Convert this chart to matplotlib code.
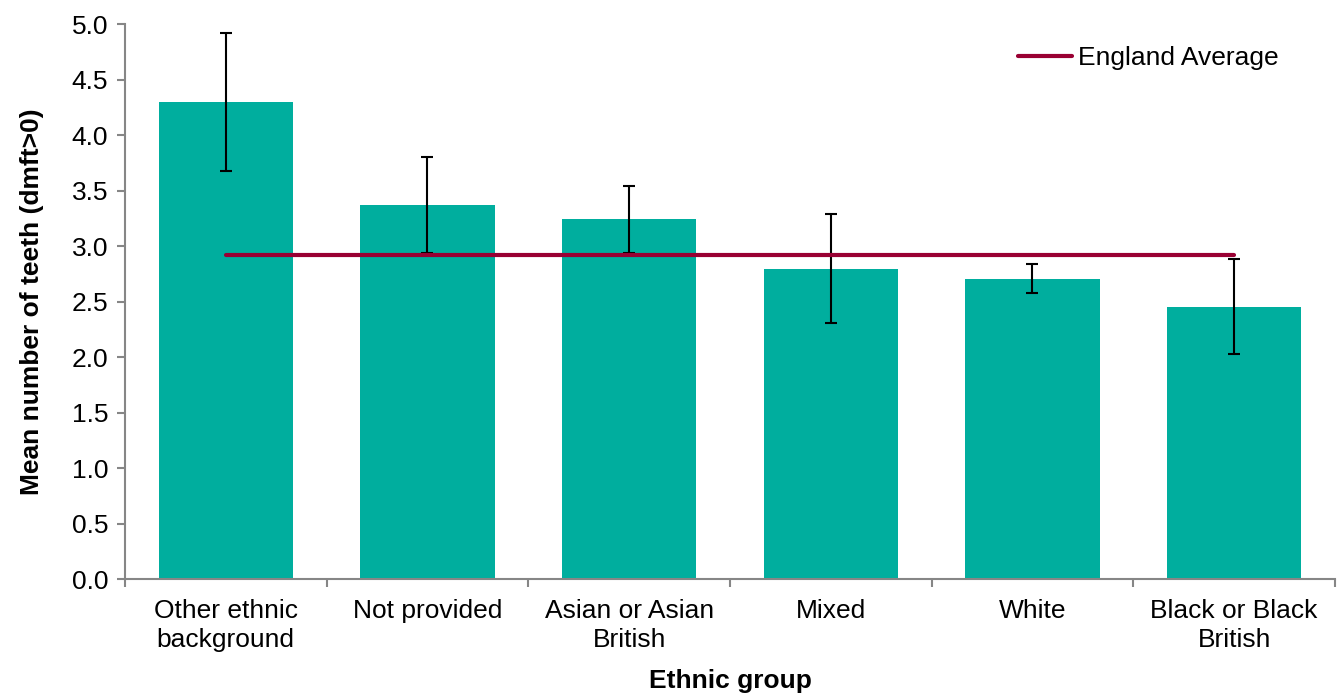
import numpy as np
import matplotlib
matplotlib.use("Agg")
import matplotlib.pyplot as plt

plt.rcParams['font.family'] = ['Liberation Sans', 'DejaVu Sans']

# data
groups = ["Other ethnic\nbackground", "Not provided", "Asian or Asian\nBritish",
          "Mixed", "White", "Black or Black\nBritish"]
means = [4.30, 3.37, 3.24, 2.79, 2.70, 2.45]
ci_low = [3.68, 2.94, 2.94, 2.31, 2.58, 2.03]
ci_high = [4.92, 3.80, 3.54, 3.29, 2.84, 2.88]
england_avg = [2.92] * 6

bar_color = '#00AE9E'
line_color = '#990033'
axis_color = '#868686'
fs = 19

fig = plt.figure(figsize=(13.41, 6.96), dpi=100)
ax = fig.add_axes([0.0932, 0.1677, 0.9023, 0.7978])

x = np.arange(len(groups))
means_a = np.array(means)
yerr = np.vstack([means_a - np.array(ci_low), np.array(ci_high) - means_a])

ax.bar(x, means, width=0.665, color=bar_color, zorder=2)
ax.errorbar(x, means, yerr=yerr, fmt='none', ecolor='black', elinewidth=1.5,
            capsize=4.5, capthick=1.5, zorder=3)
ax.plot(x, england_avg, color=line_color, lw=3, solid_capstyle='round',
        label='England Average', zorder=4)

ax.set_xlim(-0.5, len(groups) - 0.5)
ax.set_ylim(0, 5)
ax.set_yticks(np.arange(0, 5.01, 0.5))
ax.set_yticklabels(["%.1f" % v for v in np.arange(0, 5.01, 0.5)])

# category labels centred, ticks at the boundaries
ax.set_xticks(x)
ax.set_xticklabels(groups, linespacing=1.3)
ax.set_xticks(np.arange(-0.5, len(groups)), minor=True)
ax.tick_params(axis='x', which='major', length=0, pad=14, labelsize=fs)
ax.tick_params(axis='x', which='minor', length=6, width=1.5, color=axis_color)
ax.tick_params(axis='y', length=6, width=1.5, color=axis_color, labelsize=fs, pad=6)

for s in ['top', 'right']:
    ax.spines[s].set_visible(False)
for s in ['left', 'bottom']:
    ax.spines[s].set_color(axis_color)
    ax.spines[s].set_linewidth(1.5)

ax.set_xlabel('Ethnic group', fontsize=fs, fontweight='bold', labelpad=12)
ax.set_ylabel('Mean number of teeth (dmft>0)', fontsize=fs, fontweight='bold', labelpad=20)

ax.legend(loc='upper right', bbox_to_anchor=(0.9727, 1.003), frameon=False,
          fontsize=fs, handlelength=2.05, handletextpad=0.2)

fig.savefig('out.png', dpi=100)
